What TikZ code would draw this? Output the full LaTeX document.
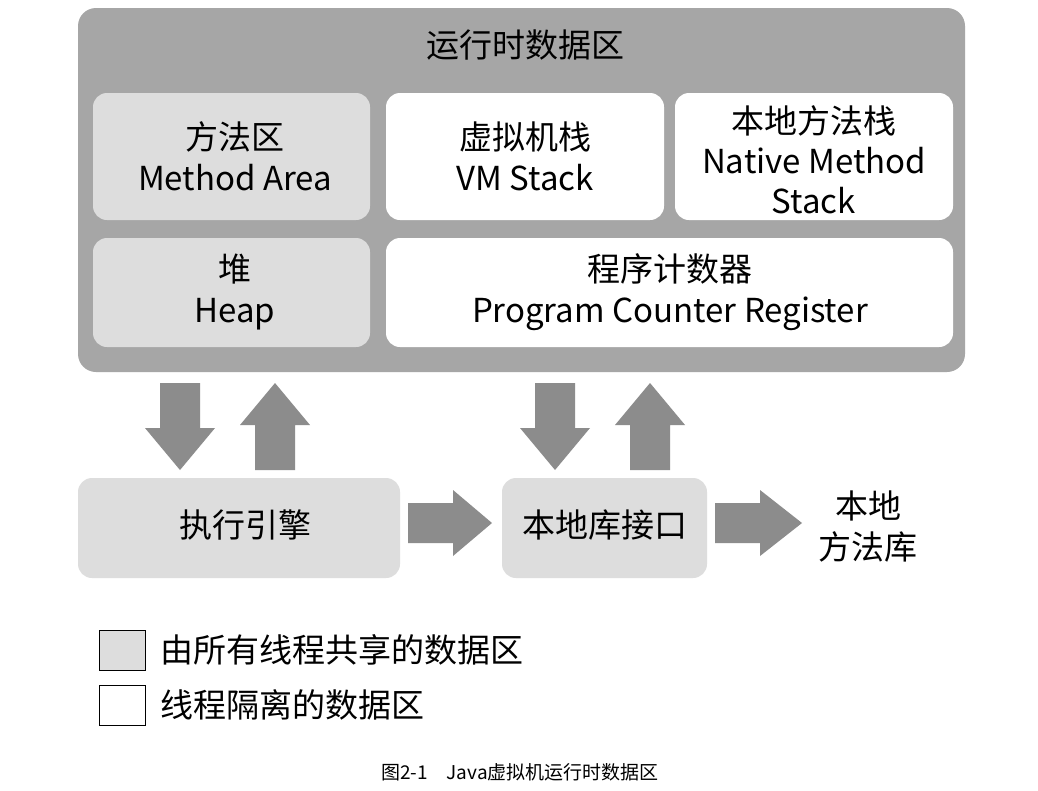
\documentclass[tikz,border=0pt]{standalone}
\usepackage{fontspec}
\setmainfont{Noto Sans CJK SC}
\definecolor{outer}{RGB}{166,166,166}
\definecolor{shared}{RGB}{221,221,221}
\definecolor{arr}{RGB}{140,140,140}
\tikzset{x=1pt,y=-1pt,
 box/.style={draw=none,rounded corners=14pt},
 lbl/.style={font=\fontsize{33}{41}\selectfont,align=center,inner sep=0pt}}
\newcommand{\downarr}[3]{\fill[arr] (#1-20,#2) -- (#1+20,#2) -- (#1+20,#2+45) -- (#1+35,#2+45) -- (#1,#3) -- (#1-35,#2+45) -- (#1-20,#2+45) -- cycle;}
\newcommand{\uparr}[3]{\fill[arr] (#1-20,#3) -- (#1+20,#3) -- (#1+20,#2+42) -- (#1+35,#2+42) -- (#1,#2) -- (#1-35,#2+42) -- (#1-20,#2+42) -- cycle;}
\newcommand{\rightarr}[3]{\fill[arr] (#1,#3-20) -- (#1+45,#3-20) -- (#1+45,#3-33) -- (#2,#3) -- (#1+45,#3+33) -- (#1+45,#3+20) -- (#1,#3+20) -- cycle;}
\begin{document}
\begin{tikzpicture}
\fill[white] (0,0) rectangle (1038,790);
\useasboundingbox (0,0) rectangle (1038,790);
\fill[outer,rounded corners=18pt] (78,8) rectangle (965,372);
\node[lbl] (title) at (525,45) {运行时数据区};
\fill[shared,box] (93,93) rectangle (370,220);
\node[lbl] (ma) at (235,156) {方法区\\Method Area};
\fill[white,box] (386,93) rectangle (664,220);
\node[lbl] (vm) at (525,156) {虚拟机栈\\VM Stack};
\fill[white,box] (675,93) rectangle (953,220);
\node[lbl,font=\fontsize{33}{40}\selectfont] (nm) at (814,160) {本地方法栈\\Native Method\\Stack};
\fill[shared,box] (93,238) rectangle (370,347);
\node[lbl] (heap) at (235,292) {堆\\Heap};
\fill[white,box] (386,238) rectangle (953,347);
\node[lbl] (pc) at (670,292) {程序计数器\\Program Counter Register};
\downarr{180}{383}{470}
\uparr{275}{383}{470}
\downarr{555}{383}{470}
\uparr{650}{383}{470}
\fill[shared,box] (78,478) rectangle (400,578);
\node[lbl] (ee) at (245,525) {执行引擎};
\rightarr{408}{492}{523}
\fill[shared,box] (502,478) rectangle (707,578);
\node[lbl] (ni) at (605,525) {本地库接口};
\rightarr{715}{802}{523}
\node[lbl] (lib) at (868,527) {本地\\方法库};
\node[draw=black,fill=shared,minimum width=46pt,minimum height=40pt] (lg1) at (122,650) {};
\node[draw=black,fill=white,minimum width=46pt,minimum height=40pt] (lg2) at (122,705) {};
\node[lbl,anchor=west] (t1) at (160,650) {由所有线程共享的数据区};
\node[lbl,anchor=west] (t2) at (160,705) {线程隔离的数据区};
\node[font=\fontsize{19}{22}\selectfont] (cap) at (520,772) {图2-1\quad Java虚拟机运行时数据区};
\end{tikzpicture}
\end{document}
